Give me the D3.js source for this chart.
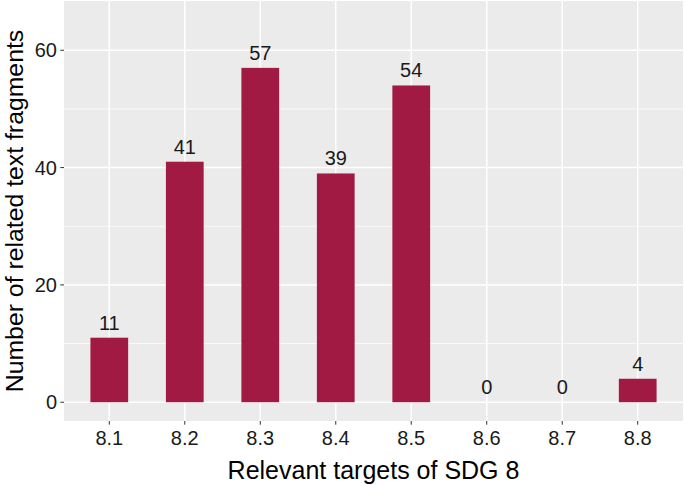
<!DOCTYPE html>
<html><head><meta charset="utf-8">
<script src="https://cdn.jsdelivr.net/npm/d3@7"></script>
<style>body{margin:0;background:#fff}svg{display:block}</style>
</head><body>
<svg id="c" width="685" height="485"></svg>
<script>
const categories = ["8.1","8.2","8.3","8.4","8.5","8.6","8.7","8.8"];
const values = [11,41,57,39,54,0,0,4];
const yTicks = [0,20,40,60];
const yMinor = [10,30,50];
const xTitle = "Relevant targets of SDG 8";
const yTitle = "Number of related text fragments";

const P={l:64,r:683,t:1,b:421};
const svg=d3.select("#c");
const font="'Liberation Sans', Arial, Helvetica, sans-serif";

// ggplot discrete scale: 0.6 expansion on each side
const x=d3.scalePoint().domain(categories).range([P.l,P.r]).padding(0.6);
const step=x.step();
const y=d3.scaleLinear().domain([-3.2,68.4]).range([P.b,P.t]);

svg.append("rect").attr("x",P.l).attr("y",P.t).attr("width",P.r-P.l).attr("height",P.b-P.t).attr("fill","#EBEBEB");
const g=svg.append("g");
yMinor.forEach(v=>g.append("line").attr("x1",P.l).attr("x2",P.r).attr("y1",y(v)).attr("y2",y(v)).attr("stroke","#fff").attr("stroke-width",0.75));
yTicks.forEach(v=>g.append("line").attr("x1",P.l).attr("x2",P.r).attr("y1",y(v)).attr("y2",y(v)).attr("stroke","#fff").attr("stroke-width",1.5));
categories.forEach(c=>g.append("line").attr("x1",x(c)).attr("x2",x(c)).attr("y1",P.t).attr("y2",P.b).attr("stroke","#fff").attr("stroke-width",1.5));

const bw=step*0.5;
svg.selectAll("rect.bar").data(values).enter().append("rect").attr("class","bar")
 .attr("x",(d,i)=>x(categories[i])-bw/2).attr("width",bw)
 .attr("y",d=>y(d)).attr("height",d=>y(0)-y(d)).attr("fill","#A11A43");

svg.selectAll("text.lab").data(values).enter().append("text").attr("class","lab")
 .attr("x",(d,i)=>x(categories[i])).attr("y",d=>y(d)-8).attr("text-anchor","middle")
 .attr("font-family",font).attr("font-size",20).attr("fill","#1a1a1a").text(d=>d);

yTicks.forEach(v=>{
  svg.append("line").attr("x1",P.l-3.7).attr("x2",P.l).attr("y1",y(v)).attr("y2",y(v)).attr("stroke","#333").attr("stroke-width",1);
  svg.append("text").attr("x",P.l-7).attr("y",y(v)).attr("dy","0.36em").attr("text-anchor","end")
   .attr("font-family",font).attr("font-size",20).attr("fill","#1a1a1a").text(v);
});
categories.forEach(c=>{
  svg.append("line").attr("x1",x(c)).attr("x2",x(c)).attr("y1",P.b).attr("y2",P.b+3.7).attr("stroke","#333").attr("stroke-width",1);
  svg.append("text").attr("x",x(c)).attr("y",445).attr("text-anchor","middle")
   .attr("font-family",font).attr("font-size",20).attr("fill","#1a1a1a").text(c);
});
svg.append("text").attr("x",(P.l+P.r)/2).attr("y",479).attr("text-anchor","middle")
 .attr("font-family",font).attr("font-size",25).attr("fill","#000").text(xTitle);
svg.append("text").attr("transform",`translate(22.5,${(P.t+P.b)/2}) rotate(-90)`).attr("text-anchor","middle")
 .attr("font-family",font).attr("font-size",24.8).attr("fill","#000").text(yTitle);
</script>
</body></html>
